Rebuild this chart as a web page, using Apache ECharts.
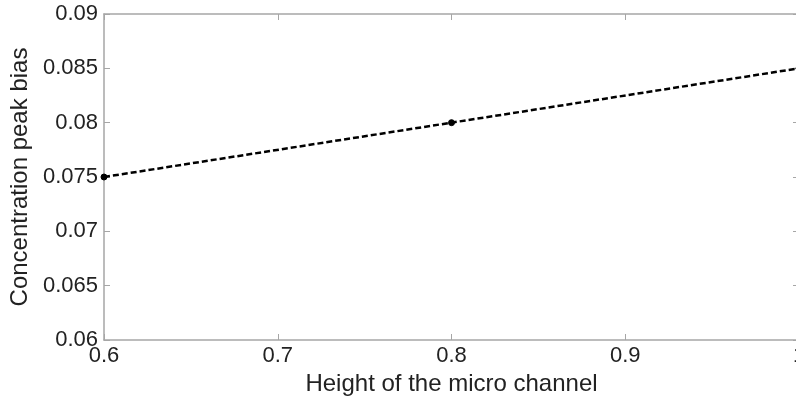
<!DOCTYPE html>
<html><head><meta charset="utf-8">
<script src="https://cdn.jsdelivr.net/npm/echarts@6/dist/echarts.min.js"></script>
<style>html,body{margin:0;padding:0;background:#fff}#c{width:796px;height:398px}</style>
</head><body><div id="c"></div>
<script>
const xValues = [0.6, 0.8, 1.0];
const yValues = [0.075, 0.08, 0.085];
const xTicks = [0.6, 0.7, 0.8, 0.9, 1];
const yTicks = [0.06, 0.065, 0.07, 0.075, 0.08, 0.085, 0.09];

const axisColor = '#a6a6a6';
const textColor = '#222';
const font = 'Liberation Sans, Arial, sans-serif';
const fmt = v => String(+v.toFixed(3));

const chart = echarts.init(document.getElementById('c'));
const baseX = {
  type: 'value', min: 0.6, max: 1.0, interval: 0.1,
  axisLine: {show: true, lineStyle: {color: axisColor, width: 1.5}},
  axisTick: {show: true, inside: true, length: 6, lineStyle: {color: axisColor}},
  splitLine: {show: false}
};
const baseY = {
  type: 'value', min: 0.06, max: 0.09, interval: 0.005,
  axisLine: {show: true, lineStyle: {color: axisColor, width: 1.5}},
  axisTick: {show: true, inside: true, length: 6, lineStyle: {color: axisColor}},
  splitLine: {show: false}
};
chart.setOption({
  animation: false,
  grid: {left: 104, width: 695, top: 14, bottom: 58, containLabel: false, outerBoundsMode: 'none'},
  xAxis: [
    Object.assign({}, baseX, {
      position: 'bottom',
      name: 'Height of the micro channel', nameLocation: 'middle', nameGap: 28,
      nameTextStyle: {color: textColor, fontSize: 24, fontFamily: font},
      axisLabel: {show: true, color: textColor, fontSize: 22, fontFamily: font, margin: 5,
        formatter: v => fmt(v)}
    }),
    Object.assign({}, baseX, {position: 'top', axisLabel: {show: false}})
  ],
  yAxis: [
    Object.assign({}, baseY, {
      position: 'left',
      name: 'Concentration peak bias', nameLocation: 'middle', nameGap: 64,
      nameTextStyle: {color: textColor, fontSize: 24, fontFamily: font},
      axisLabel: {show: true, color: textColor, fontSize: 22, fontFamily: font, margin: 6,
        formatter: v => fmt(v)}
    }),
    Object.assign({}, baseY, {position: 'right', axisLabel: {show: false}})
  ],
  series: [{
    type: 'line',
    data: xValues.map((x, i) => [x, yValues[i]]),
    symbol: 'circle', symbolSize: 6,
    itemStyle: {color: '#000', borderColor: '#000'},
    lineStyle: {color: '#000', width: 2.5, type: [6, 3]},
    clip: false
  }]
});
</script></body></html>
